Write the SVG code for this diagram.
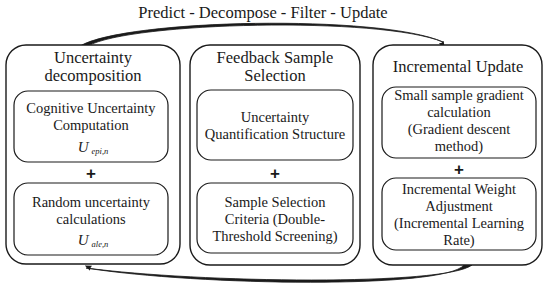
<svg xmlns="http://www.w3.org/2000/svg" width="550" height="297" viewBox="0 0 550 297" font-family="Liberation Serif, Times New Roman, serif">
<style>
.outer{fill:#fff;stroke:#1a1a1a;stroke-width:1.4}
.inner{fill:#fff;stroke:#1a1a1a;stroke-width:1.2}
.conn{fill:#1a1a1a;stroke:#1a1a1a;stroke-width:0.8}
</style>
<defs>
<marker id="ah" viewBox="0 0 10 10" refX="8" refY="5" markerWidth="7" markerHeight="7" orient="auto" markerUnits="userSpaceOnUse">
<path d="M0,1 Q5,3 10,5 Q5,7 0,9 Q2,5 0,1 Z" fill="#1a1a1a"/>
</marker>
</defs>
<rect width="550" height="297" fill="#fff"/>
<text x="263" y="18" font-family="Liberation Serif, serif" font-size="16.5" fill="#1a1a1a" text-anchor="middle">Predict - Decompose - Filter - Update</text>
<g id="connectors">
<path class="conn" d="M80 46 C126 19 380 14 443 42 C380 16 130 22 88 46 Z"/>
<path d="M440 40 L444 47" fill="none" stroke="none" marker-end="url(#ah)"/>
<path class="conn" d="M472 265 C445 286 200 283 86 268 C200 286 445 289 464 265 Z"/>
<path d="M93 269 L86 266" fill="none" stroke="none" marker-end="url(#ah)"/>
</g>
<g font-family="Liberation Serif, serif" fill="#1a1a1a" text-anchor="middle">
<g id="box-uncertainty">
<rect class="outer" x="6" y="45" width="174" height="219" rx="20"/>
<text x="93" y="62.5" font-size="16.5">Uncertainty</text>
<text x="93" y="81.2" font-size="16.5">decomposition</text>
</g>
<g id="node-cognitive" font-size="14.5">
<rect class="inner" x="14" y="91" width="154" height="71" rx="14"/>
<text x="91" y="113">Cognitive Uncertainty</text>
<text x="91" y="130">Computation</text>
<text x="93" y="152" font-size="15"><tspan font-style="italic">U</tspan><tspan font-style="italic" font-size="8.5" dx="3" dy="2">epi,n</tspan></text>
</g>
<text x="91" y="179" font-family="Liberation Sans, Arial, sans-serif" font-weight="bold" font-size="17">+</text>
<g id="node-random" font-size="14.5">
<rect class="inner" x="14" y="183" width="154" height="72" rx="14"/>
<text x="91" y="207">Random uncertainty</text>
<text x="91" y="224">calculations</text>
<text x="93" y="245" font-size="15"><tspan font-style="italic">U</tspan><tspan font-style="italic" font-size="8.5" dx="3" dy="2">ale,n</tspan></text>
</g>
<g id="box-feedback">
<rect class="outer" x="190" y="45" width="170" height="220" rx="20"/>
<text x="275" y="62.5" font-size="16.5">Feedback Sample</text>
<text x="275" y="81.2" font-size="16.5">Selection</text>
</g>
<g id="node-quant" font-size="14.5">
<rect class="inner" x="197" y="90" width="156" height="70" rx="14"/>
<text x="275" y="122">Uncertainty</text>
<text x="275" y="139">Quantification Structure</text>
</g>
<text x="275" y="179" font-family="Liberation Sans, Arial, sans-serif" font-weight="bold" font-size="17">+</text>
<g id="node-criteria" font-size="14.5">
<rect class="inner" x="197" y="183" width="156" height="70" rx="14"/>
<text x="275" y="207">Sample Selection</text>
<text x="275" y="224">Criteria (Double-</text>
<text x="275" y="241">Threshold Screening)</text>
</g>
<g id="box-incremental">
<rect class="outer" x="373" y="45" width="169" height="220" rx="20"/>
<text x="458" y="72" font-size="16.5">Incremental Update</text>
</g>
<g id="node-gradient" font-size="14.5">
<rect class="inner" x="382" y="87" width="154" height="71" rx="14"/>
<text x="459" y="100">Small sample gradient</text>
<text x="459" y="117">calculation</text>
<text x="459" y="134">(Gradient descent</text>
<text x="459" y="151">method)</text>
</g>
<text x="459" y="175" font-family="Liberation Sans, Arial, sans-serif" font-weight="bold" font-size="17">+</text>
<g id="node-weight" font-size="14.5">
<rect class="inner" x="382" y="178" width="154" height="72" rx="14"/>
<text x="459" y="194">Incremental Weight</text>
<text x="459" y="211">Adjustment</text>
<text x="459" y="228">(Incremental Learning</text>
<text x="459" y="245">Rate)</text>
</g>
</g>
</svg>
